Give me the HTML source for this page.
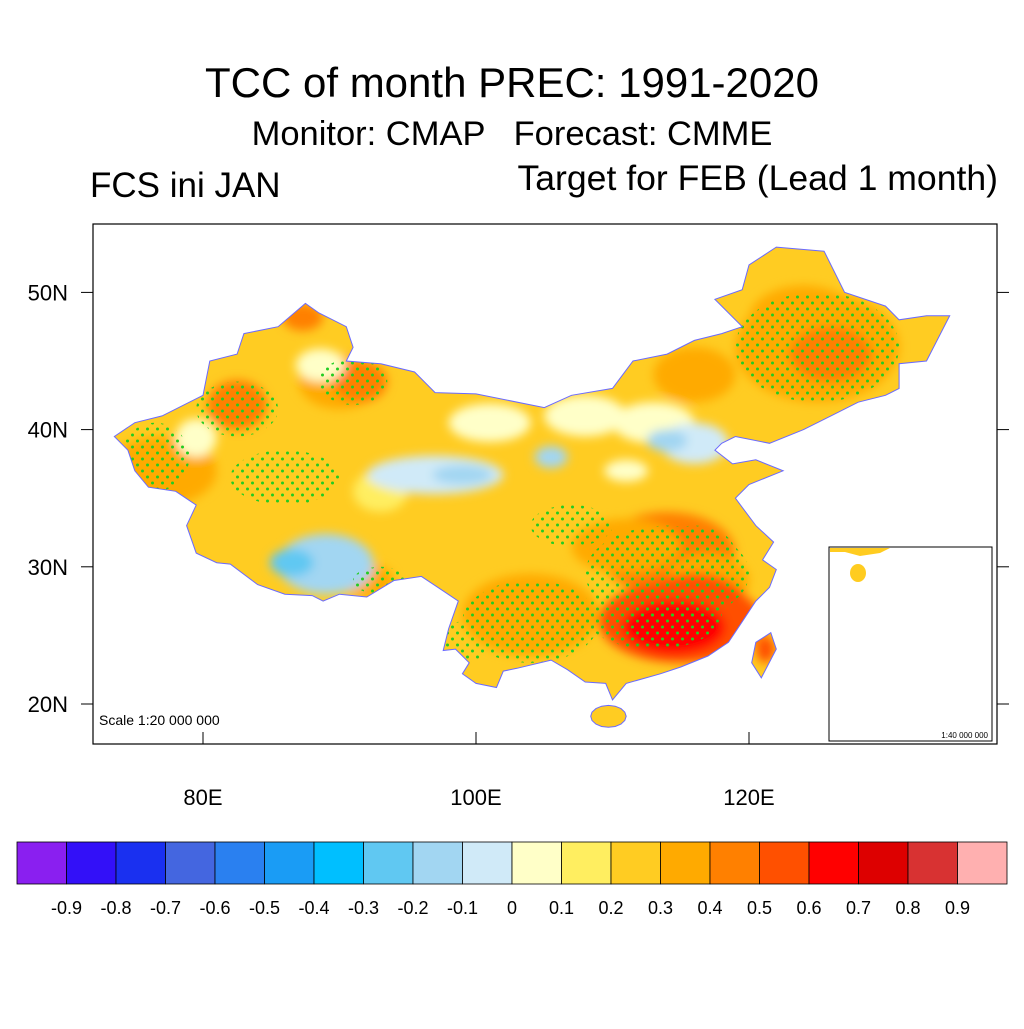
<!DOCTYPE html>
<html><head><meta charset="utf-8"><style>
body{margin:0;background:#fff;width:1024px;height:1024px;overflow:hidden;font-family:"Liberation Sans",sans-serif}
svg text{font-family:"Liberation Sans",sans-serif}
</style></head><body>
<svg id="s" width="1024" height="1024" viewBox="0 0 1024 1024">
<defs>
<clipPath id="cn"><path id="cnp"/></clipPath>
<clipPath id="frame"><rect x="93" y="224" width="904" height="520"/></clipPath>
<filter id="bl" x="-50%" y="-50%" width="200%" height="200%"><feGaussianBlur stdDeviation="5"/></filter>
<pattern id="dots" width="10" height="12" patternUnits="userSpaceOnUse"><circle cx="2.5" cy="3" r="1.5" fill="#22cc22"/><circle cx="7.5" cy="9" r="1.5" fill="#22cc22"/></pattern>
</defs>
<text x="512" y="97" font-size="42" text-anchor="middle">TCC of month PREC: 1991-2020</text>
<text x="512" y="145" font-size="34.5" text-anchor="middle" style="white-space:pre">Monitor: CMAP   Forecast: CMME</text>
<text x="90" y="197" font-size="35">FCS ini JAN</text>
<text x="998" y="190" font-size="35.6" text-anchor="end">Target for FEB (Lead 1 month)</text>
<g id="map" clip-path="url(#frame)"></g>
<rect x="93" y="224" width="904" height="520" fill="none" stroke="#000" stroke-width="1.2"/>
<g id="axes"></g>
<text x="99" y="725" font-size="14">Scale 1:20 000 000</text>
<g>
<rect x="829" y="547" width="163" height="194" fill="#fff" stroke="#000" stroke-width="1"/>
<path d="M830 548 L890 548 L880 553 L860 556 L845 552 L830 552Z" fill="#ffcc20"/>
<ellipse cx="858" cy="573" rx="8" ry="9" fill="#ffcc20"/>
<text x="988" y="738" font-size="8" text-anchor="end">1:40 000 000</text>
</g>
<g id="cbar"></g>
</svg>
<script>
const NS="http://www.w3.org/2000/svg";
const levelLabels=["-0.9","-0.8","-0.7","-0.6","-0.5","-0.4","-0.3","-0.2","-0.1","0","0.1","0.2","0.3","0.4","0.5","0.6","0.7","0.8","0.9"];
const levelColors=["#8a1ff0","#3310f8","#1a30f0","#4466e0","#2a80f0","#1a9cf5","#00bfff","#60c8f2","#a2d6f2","#d0eaf8","#ffffc8","#ffee60","#ffcc22","#ffaa00","#ff8000","#ff5000","#ff0000","#dd0000","#d83232","#ffb0b0"];
const lonTicks=[80,100,120];const lonTickLabels=["80E","100E","120E"];
const latTicks=[20,30,40,50];const latTickLabels=["20N","30N","40N","50N"];
const X=l=>203+(l-80)*13.65, Y=p=>704-(p-20)*13.72;
const outline=[[73.5,39.5],[75,40.5],[77,41],[80,42.5],[80.5,45],[82.5,45.5],[83,47],[85.5,47.5],[87.5,49.2],[88.5,48.5],[90.5,47.5],[91,46],[90.5,45],[93,44.8],[95.5,44.2],[97,42.7],[100,42.6],[105,41.6],[107,42.5],[110,43],[111.5,45],[114,45.5],[116,46.5],[118,47],[119.5,47.5],[117.5,49.5],[119.5,50.2],[120,52],[122,53.3],[125.5,53],[127,50],[130,49],[131,48],[133,48.3],[134.7,48.3],[133,45],[131,44.8],[131,43],[130,42.5],[128,42],[126,41],[124,40],[121.5,39],[119,39.5],[118,39],[117.5,38.5],[118.8,37.5],[120.5,37.8],[122.5,37],[120,36],[119,35],[120.5,33],[121.8,31.8],[121,30.5],[122,29.8],[121.5,28.5],[120.5,27.5],[119.5,26],[118.5,24.5],[117,23.5],[115,22.7],[113.5,22.2],[111,21.5],[110,20.3],[109.5,21.5],[108,21.6],[106.7,22.5],[105.5,23.2],[103,22.6],[102,22.4],[101.5,21.2],[100,21.5],[99,22.2],[99.5,23],[98.5,24],[97.6,23.9],[98,25.5],[98.7,27.5],[97.5,28.3],[96,29.3],[94,29],[92,27.8],[90,28],[88.8,27.5],[88,27.9],[86,28],[84,28.7],[82,30.2],[81,30.3],[79.5,31],[78.8,33],[79.5,34.5],[78,35.5],[76,35.8],[75,37],[74.5,38.5]];
const taiwan=[[121.6,25.2],[122,24],[120.9,21.9],[120.2,23],[120.5,24.5]];
const poly=a=>"M"+a.map(p=>X(p[0]).toFixed(1)+" "+Y(p[1]).toFixed(1)).join("L")+"Z";
const hainan=(()=>{let a=[];for(let i=0;i<16;i++){const t=i/16*2*Math.PI;a.push([109.7+1.3*Math.cos(t),19.1+0.8*Math.sin(t)]);}return a;})();
document.getElementById("cnp").setAttribute("d",poly(outline)+poly(taiwan)+poly(hainan));
const blobLon=[77,82.5,90,91.5,87.3,125,124,116,104,92,114,111,117,115,116,114.5,121.2,126,79.5,88.6,101,108,113,111,93,89,86.5,97,99,105.5,116,114];
const blobLat=[37,41.8,43.5,43.5,48.2,46,48,44,26.5,29,31,31.5,29,26,27,25.6,24,45.5,39.4,44.7,40.5,41,40.5,37,35.5,30.2,30.3,36.7,36.7,38,39,39.2];
const blobRx=[4,2.2,3,2,1.5,6,4,3,5,2,5,4,3,6,4,3.8,0.7,3,1.5,1.8,3,3,3,1.6,2,3.5,1.6,5,2.2,1.2,2.5,1.5];
const blobRy=[2.5,1.8,2,1.5,1,4,2.5,2,3,1.2,3,2,2,3,2.5,2,1,2,1.4,1.2,1.4,1.5,1.5,0.8,1.5,2.2,1,1.4,0.7,0.8,1.5,0.8];
const blobLevel=[13,14,13,14,14,13,13,13,13,13,14,13,13,15,15,16,15,14,10,10,10,10,10,10,11,8,7,9,8,8,9,8];
const dotLon=[82.5,91,76.5,86,125,114,104,113,116,93,99,107];
const dotLat=[41.5,43.5,38,36.5,46,29.5,26,26.5,31,29,24.5,33];
const dotRx=[3,2.5,2.5,4,6,6,5,5,3,2,2,3];
const dotRy=[2,1.7,2.5,2,4,3.5,3,2.5,2,1,1.5,1.5];
const map=document.getElementById("map");
function el(t,a,p){const e=document.createElementNS(NS,t);for(const k in a)e.setAttribute(k,a[k]);(p||map).appendChild(e);return e;}
const g=el("g",{"clip-path":"url(#cn)"});


el("rect",{x:90,y:220,width:910,height:530,fill:"#ffcc22"},g);
const bz=el("g",{filter:"url(#bl)"},g);
for(let i=0;i<blobLon.length;i++){
 const e=el("ellipse",{cx:X(blobLon[i]),cy:Y(blobLat[i]),rx:blobRx[i]*13.65,ry:blobRy[i]*13.72,fill:levelColors[blobLevel[i]]},bz);
 
 
}
for(let i=0;i<dotLon.length;i++){
 const e=el("ellipse",{cx:X(dotLon[i]),cy:Y(dotLat[i]),rx:dotRx[i]*13.65,ry:dotRy[i]*13.72,fill:"url(#dots)"},g);
 
 
}
const ol=el("path",{d:poly(outline)+poly(taiwan)+poly(hainan),fill:"none",stroke:"#6a6aff","stroke-width":1});


const ax=document.getElementById("axes");
for(let i=0;i<lonTicks.length;i++){
 const x=X(lonTicks[i]);
 el("line",{x1:x,x2:x,y1:744,y2:732,stroke:"#000"},ax);
 const t=el("text",{x:x,y:805,"font-size":22,"text-anchor":"middle"},ax);t.textContent=lonTickLabels[i];
 
 
}
for(let i=0;i<latTicks.length;i++){
 const y=Y(latTicks[i]);
 el("line",{x1:93,x2:81,y1:y,y2:y,stroke:"#000"},ax);
 el("line",{x1:997,x2:1009,y1:y,y2:y,stroke:"#000"},ax);
 const t=el("text",{x:68,y:y+8,"font-size":22,"text-anchor":"end"},ax);t.textContent=latTickLabels[i];
 
 
}
const cb=document.getElementById("cbar");
const w=(1007-17)/levelColors.length;
for(let i=0;i<levelColors.length;i++){
 const r=el("rect",{x:17+i*w,y:842,width:w,height:42,fill:levelColors[i],stroke:"#000","stroke-width":0.8},cb);
 
 
}
for(let i=0;i<levelLabels.length;i++){
 const t=el("text",{x:17+(i+1)*w,y:914,"font-size":18,"text-anchor":"middle"},cb);t.textContent=levelLabels[i];
 
 
}
</script>
</body></html>
